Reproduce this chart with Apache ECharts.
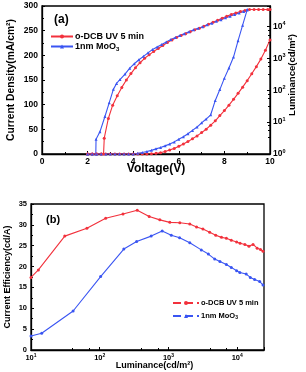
<!DOCTYPE html>
<html><head><meta charset="utf-8">
<script src="https://cdn.jsdelivr.net/npm/echarts@6/dist/echarts.min.js"></script>
<style>html,body{margin:0;padding:0;background:#fff}#c{width:306px;height:372px}</style>
</head><body><div id="c"></div>
<script>
// ---- Panel (a): J-V-L ----
const redJ_V = [2.0,2.2,2.4,2.6,2.7,2.73,2.91,3.1,3.3,3.5,3.7,3.9,4.1,4.3,4.5,4.7,4.9,5.1,5.3,5.5,5.7,5.9,6.1,6.3,6.5,6.7,6.9,7.1,7.3,7.5,7.7,7.9,8.1,8.3,8.5,8.7,8.9,9.1,9.3,9.5,9.7,9.9,10.0];
const redJ   = [0,0,0,0,0,32,72,99,118,135,150,163,175,185,194,201,208,214,220,226,231,236,240,244,248,252,255,259,263,267,271,275,279,283,286,289,291,293,293,293,293,293,293];
const blueJ_V = [2.0,2.2,2.36,2.37,2.54,2.76,2.95,3.13,3.27,3.42,3.64,3.85,4.05,4.25,4.45,4.65,4.85,5.05,5.25,5.45,5.65,5.85,6.05,6.25,6.45,6.65,6.85,7.05,7.25,7.45,7.65,7.85,8.05,8.25,8.45,8.65,8.85,9.0];
const blueJ   = [0,0,0,30,45,76,104,131,143,151,162,174,183,191,198,205,212,217,222,227,232,236,240,244,248,252,255,258,262,265,269,272,276,279,283,286,289,292];
const redL_V = [2.0,2.2,2.4,2.6,2.8,3.0,3.2,3.4,3.6,3.8,4.0,4.2,4.4,4.6,4.8,5.0,5.2,5.4,5.6,5.8,6.0,6.2,6.4,6.6,6.8,7.0,7.2,7.4,7.6,7.8,8.0,8.2,8.4,8.6,8.8,9.0,9.2,9.4,9.6,9.8,10.0];
const redL   = [1,1,1,1,1,1,1,1,1,1,1,1,1,1,1.02,1.05,1.1,1.2,1.33,1.5,1.75,2.05,2.45,3.0,3.7,4.7,6,8,11,16,23,34,52,80,125,200,330,550,950,1800,3800];
const blueL_V = [2.0,2.2,2.4,2.6,2.8,3.0,3.2,3.4,3.6,3.8,4.0,4.2,4.4,4.6,4.8,5.0,5.2,5.4,5.6,5.8,6.0,6.2,6.4,6.6,6.8,7.0,7.2,7.4,7.6,7.8,8.0,8.2,8.4,8.6,8.8,9.0];
const blueL   = [1,1,1,1,1,1,1,1,1,1,1,1.05,1.12,1.2,1.3,1.45,1.6,1.8,2.05,2.4,2.9,3.5,4.3,5.5,7,9.5,12.5,17,48,105,240,500,1100,3600,11000,34000];

// ---- Panel (b): CE-L ----
const redCE_L = [10,12.8,31,65,122,218,351,524,748,1046,1460,2040,2560,3170,3970,4870,5900,6950,8200,9800,11000,12900,14800,17000,19500,21800,23700];
const redCE   = [17.4,19.2,27.3,29.2,31.6,32.6,33.5,32.0,31.2,30.6,30.5,30.2,29.5,29.0,28.2,27.5,27.0,26.8,26.3,25.9,25.6,25.3,24.9,25.3,24.4,24.1,23.7];
const blueCE_L = [10,14.3,41,103,224,344,560,809,1100,1450,2040,3000,3800,4700,5600,6950,8200,9800,10900,13500,15500,17900,21200,23700];
const blueCE   = [3.36,4.0,9.35,17.6,24.2,26.0,27.3,28.5,27.5,26.9,25.7,24.0,23.0,21.8,21.2,20.5,19.8,19.0,18.6,18.2,17.4,16.9,16.4,15.6];

const nameRed = 'o-DCB UV 5 min';
const nameBlue = '1nm MoO3';
const RED = '#f2313c', BLUE = '#3a55f2';
const FONT = 'Liberation Sans, Arial, sans-serif';

const pairs = (xs, ys) => xs.map((x, i) => [x, ys[i]]);
const supLabel = v => '{b|10}{s|' + Math.round(Math.log10(v)) + '}';

const chart = echarts.init(document.getElementById('c'), null, {renderer: 'canvas'});
const axisLine = {lineStyle: {color: '#000', width: 1.3}};
const lineSeries = (name, color, data, xi, yi, sym) => ({
  name, type: 'line', xAxisIndex: xi, yAxisIndex: yi, data,
  symbol: sym, symbolSize: 3, showSymbol: true,
  lineStyle: {color, width: 1.1}, itemStyle: {color}, animation: false
});
const legendFmt = n => n.replace('MoO3', 'MoO{sub|3}');

chart.setOption({
  animation: false,
  textStyle: {fontFamily: FONT},
  grid: [
    {left: 42, top: 6, width: 228, height: 148, show: true, borderColor: '#000', borderWidth: 1.3,
     backgroundColor: 'transparent', containLabel: false, outerBoundsMode: 'none'},
    {left: 31, top: 204, width: 233, height: 146, show: true, borderColor: '#000', borderWidth: 1.3,
     backgroundColor: 'transparent', containLabel: false, outerBoundsMode: 'none'}
  ],
  title: [
    {text: '(a)', left: 49, top: 9, textStyle: {fontSize: 12, fontWeight: 'bold', color: '#000', fontFamily: FONT}},
    {text: '(b)', left: 41, top: 209, textStyle: {fontSize: 11, fontWeight: 'bold', color: '#000', fontFamily: FONT}}
  ],
  legend: [
    {data: [nameRed, nameBlue], left: 45, top: 27, orient: 'vertical', itemGap: 1, itemWidth: 22, itemHeight: 5,
     formatter: legendFmt,
     textStyle: {fontSize: 9, fontWeight: 'bold', color: '#000', fontFamily: FONT, padding: [0,0,0,-3],
       rich: {sub: {fontSize: 6, fontWeight: 'bold', padding: [5,0,0,0]}}}},
    {data: [nameRed, nameBlue], left: 167, top: 294, orient: 'vertical', itemGap: 5, itemWidth: 26, itemHeight: 5,
     formatter: legendFmt, lineStyle: {type: 'dashed'},
     textStyle: {fontSize: 7.5, fontWeight: 'bold', color: '#000', fontFamily: FONT, padding: [0,0,0,-3],
       rich: {sub: {fontSize: 5, fontWeight: 'bold', padding: [4,0,0,0]}}}}
  ],
  xAxis: [
    {gridIndex: 0, type: 'value', min: 0, max: 10, interval: 2,
     name: 'Voltage(V)', nameLocation: 'middle', nameGap: 9, nameMoveOverlap: false,
     nameTextStyle: {fontSize: 12, fontWeight: 'bold', color: '#000'},
     axisLine, splitLine: {show: false},
     axisTick: {inside: true, length: 3, lineStyle: {color: '#000'}},
     minorTick: {show: true, splitNumber: 2, length: 2, lineStyle: {color: '#000'}},
     axisLabel: {fontSize: 8.5, fontWeight: 'bold', color: '#000', margin: 3}},
    {gridIndex: 1, type: 'log', min: 10, max: 24500, logBase: 10,
     name: 'Luminance(cd/m²)', nameLocation: 'middle', nameGap: 11, nameMoveOverlap: false,
     nameTextStyle: {fontSize: 9, fontWeight: 'bold', color: '#000', padding: [0,0,0,14]},
     axisLine, splitLine: {show: false},
     axisTick: {inside: true, length: 3, lineStyle: {color: '#000'}},
     minorTick: {show: true, splitNumber: 3, length: 2, lineStyle: {color: '#000'}},
     axisLabel: {formatter: supLabel, color: '#000', margin: 3, showMaxLabel: false,
       rich: {b: {fontSize: 7.5, fontWeight: 'bold'}, s: {fontSize: 5, fontWeight: 'bold', padding: [0,0,5,0]}}}}
  ],
  yAxis: [
    {gridIndex: 0, type: 'value', min: 0, max: 300, interval: 50,
     name: 'Current Density(mA/cm²)', nameLocation: 'middle', nameGap: 26, nameMoveOverlap: false,
     nameTextStyle: {fontSize: 10.3, fontWeight: 'bold', color: '#000'},
     axisLine, splitLine: {show: false},
     axisTick: {inside: true, length: 3, lineStyle: {color: '#000'}},
     minorTick: {show: true, splitNumber: 2, length: 2, lineStyle: {color: '#000'}},
     axisLabel: {fontSize: 8.5, fontWeight: 'bold', color: '#000', margin: 4}},
    {gridIndex: 0, type: 'log', min: 1, max: 44000, logBase: 10, position: 'right',
     name: 'Luminance(cd/m²)', nameLocation: 'middle', nameGap: 17, nameRotate: 90, nameMoveOverlap: false,
     nameTextStyle: {fontSize: 9.5, fontWeight: 'bold', color: '#000', padding: [0,0,0,10]},
     axisLine, splitLine: {show: false},
     axisTick: {inside: true, length: 3, lineStyle: {color: '#000'}},
     minorTick: {show: true, splitNumber: 4, length: 2, lineStyle: {color: '#000'}},
     axisLabel: {formatter: supLabel, color: '#000', margin: 3, showMaxLabel: false,
       rich: {b: {fontSize: 8.5, fontWeight: 'bold'}, s: {fontSize: 5.5, fontWeight: 'bold', padding: [0,0,6,0]}}}},
    {gridIndex: 1, type: 'value', min: 0, max: 35, interval: 5,
     name: 'Current Efficiency(cd/A)', nameLocation: 'middle', nameGap: 19, nameMoveOverlap: false,
     nameTextStyle: {fontSize: 9, fontWeight: 'bold', color: '#000'},
     axisLine, splitLine: {show: false},
     axisTick: {inside: true, length: 3, lineStyle: {color: '#000'}},
     minorTick: {show: true, splitNumber: 2, length: 2, lineStyle: {color: '#000'}},
     axisLabel: {fontSize: 7.5, fontWeight: 'bold', color: '#000', margin: 4}}
  ],
  series: [
    lineSeries(nameRed, RED, pairs(redJ_V, redJ), 0, 0, 'circle'),
    lineSeries(nameBlue, BLUE, pairs(blueJ_V, blueJ), 0, 0, 'triangle'),
    lineSeries(nameRed, RED, pairs(redL_V, redL), 0, 1, 'circle'),
    lineSeries(nameBlue, BLUE, pairs(blueL_V, blueL), 0, 1, 'triangle'),
    lineSeries(nameRed, RED, pairs(redCE_L, redCE), 1, 2, 'circle'),
    lineSeries(nameBlue, BLUE, pairs(blueCE_L, blueCE), 1, 2, 'circle')
  ]
});
</script></body></html>
